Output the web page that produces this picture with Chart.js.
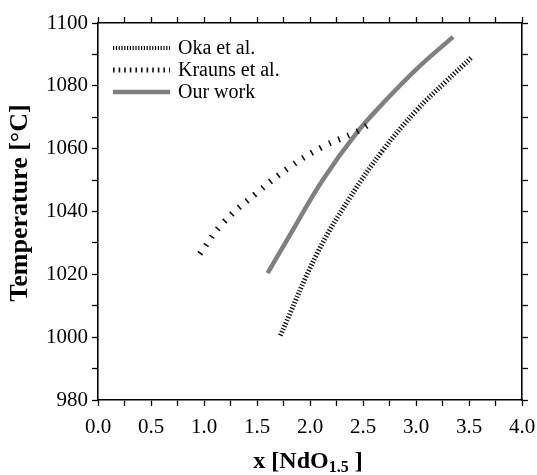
<!DOCTYPE html>
<html>
<head>
<meta charset="utf-8">
<script src="https://cdn.jsdelivr.net/npm/chart.js@4"></script>
<style>
  html, body { margin: 0; padding: 0; background: #fff; }
  #wrap { width: 537px; height: 475px; }
</style>
</head>
<body>
<div id="wrap"><canvas id="c" width="537" height="475"></canvas></div>
<script>
// ─── DATA ────────────────────────────────────────────────────────────────────
const okaX    = [1.72, 2.07, 2.38, 2.69, 3.01, 3.28, 3.53];
const okaT    = [1000.5, 1026.8, 1044.6, 1059.6, 1072.4, 1081.3, 1089.2];
const kraunsX = [0.96, 1.18, 1.50, 1.81, 2.12, 2.44, 2.59];
const kraunsT = [1026.5, 1036.4, 1046.0, 1054.2, 1060.6, 1065.4, 1068.5];
const oursX   = [1.60, 1.81, 2.12, 2.44, 2.69, 3.01, 3.35];
const oursT   = [1020.4, 1032.5, 1050.0, 1065.0, 1074.5, 1085.5, 1095.6];

const seriesNames = ['Oka et al.', 'Krauns et al.', 'Our work'];
const xTitle = ['x [NdO', '1.5', ' ]'];
const yTitle = 'Temperature [°C]';

const pts = (xs, ys) => xs.map((x, i) => ({ x, y: ys[i] }));

const SERIF = "'Liberation Serif', 'Times New Roman', serif";

// ─── PLUGINS ─────────────────────────────────────────────────────────────────
const titles = {
  id: 'titles',
  afterDraw(chart) {
    const ctx = chart.ctx;
    ctx.save();
    ctx.fillStyle = '#000';
    // y title
    ctx.translate(20, 203);
    ctx.rotate(-Math.PI / 2);
    ctx.font = `bold 26px ${SERIF}`;
    ctx.textAlign = 'center';
    ctx.textBaseline = 'middle';
    ctx.fillText(yTitle, 0, 0);
    ctx.restore();

    // x title with subscript
    ctx.save();
    ctx.fillStyle = '#000';
    ctx.textBaseline = 'alphabetic';
    ctx.textAlign = 'left';
    const big = `bold 24px ${SERIF}`, small = `bold 16px ${SERIF}`;
    ctx.font = big;  const w1 = ctx.measureText(xTitle[0]).width;
    ctx.font = small; const w2 = ctx.measureText(xTitle[1]).width;
    ctx.font = big;  const w3 = ctx.measureText(xTitle[2]).width;
    let x = 308 - (w1 + w2 + w3) / 2;
    const base = 468;
    ctx.font = big;   ctx.fillText(xTitle[0], x, base); x += w1;
    ctx.font = small; ctx.fillText(xTitle[1], x, base + 4); x += w2;
    ctx.font = big;   ctx.fillText(xTitle[2], x, base);
    ctx.restore();
  }
};

const legendBox = {
  id: 'legendBox',
  afterDatasetsDraw(chart) {
    const ctx = chart.ctx;
    chart.data.datasets.forEach((ds, i) => {
      const y = 48 + i * 22;
      ctx.save();
      ctx.strokeStyle = ds.borderColor;
      ctx.lineWidth = ds.legendWidth || ds.borderWidth;
      ctx.setLineDash(ds.legendDash || ds.borderDash || []);
      ctx.lineCap = 'butt';
      ctx.beginPath();
      ctx.moveTo(113, y);
      ctx.lineTo(170, y);
      ctx.stroke();
      ctx.restore();
      ctx.save();
      ctx.fillStyle = '#000';
      ctx.font = `20px ${SERIF}`;
      ctx.textBaseline = 'middle';
      ctx.fillText(ds.label, 178, y + 1);
      ctx.restore();
    });
  }
};

// ─── CHART ───────────────────────────────────────────────────────────────────
const tickFont = { family: SERIF, size: 21 };
const gridOpts = {
  drawOnChartArea: false, drawTicks: true, tickLength: 6,
  tickColor: '#000', tickWidth: 1.3,
};
const borderOpts = { display: true, color: '#000', width: 1.6 };
const noSidePad = s => { s.paddingLeft = 0; s.paddingRight = 0; };

new Chart(document.getElementById('c').getContext('2d'), {
  type: 'line',
  data: {
    datasets: [
      {
        label: seriesNames[0], data: pts(okaX, okaT),
        borderColor: '#111', borderWidth: 5, borderDash: [1.3, 1.9],
        legendWidth: 4, legendDash: [1.2, 1.6],
        borderCapStyle: 'butt', pointRadius: 0, tension: 0.4,
      },
      {
        label: seriesNames[1], data: pts(kraunsX, kraunsT),
        borderColor: '#111', borderWidth: 6, borderDash: [1.6, 8.5],
        legendWidth: 5, legendDash: [1.6, 4],
        borderCapStyle: 'butt', pointRadius: 0, tension: 0.4,
      },
      {
        label: seriesNames[2], data: pts(oursX, oursT),
        borderColor: '#808080', borderWidth: 4.5,
        pointRadius: 0, tension: 0.4,
      },
    ]
  },
  options: {
    responsive: false, animation: false,
    layout: { padding: 0 },
    plugins: { legend: { display: false }, tooltip: { enabled: false } },
    scales: {
      x: {
        type: 'linear', position: 'bottom', min: 0, max: 4,
        ticks: {
          stepSize: 0.25, autoSkip: false, maxRotation: 0, color: '#000',
          font: tickFont, padding: 9,
          callback: v => (Math.abs(v * 2 - Math.round(v * 2)) < 1e-6 ? Number(v).toFixed(1) : ''),
        },
        grid: gridOpts, border: borderOpts,
        afterFit: s => { s.height = 75; noSidePad(s); },
      },
      x2: {
        type: 'linear', position: 'top', min: 0, max: 4,
        ticks: { stepSize: 0.25, autoSkip: false, display: false },
        grid: gridOpts, border: borderOpts,
        afterFit: s => { s.height = 23; noSidePad(s); },
      },
      y: {
        type: 'linear', position: 'left', min: 980, max: 1100,
        ticks: {
          stepSize: 10, autoSkip: false, color: '#000', font: tickFont, padding: 4,
          callback: v => (v % 20 === 0 ? String(v) : ''),
        },
        grid: gridOpts, border: borderOpts,
        afterFit: s => { s.width = 98; s.paddingTop = 0; s.paddingBottom = 0; },
      },
      y2: {
        type: 'linear', position: 'right', min: 980, max: 1100,
        ticks: { stepSize: 10, autoSkip: false, display: false },
        grid: gridOpts, border: borderOpts,
        afterFit: s => { s.width = 15; s.paddingTop = 0; s.paddingBottom = 0; },
      },
    }
  },
  plugins: [titles, legendBox]
});
</script>
</body>
</html>
